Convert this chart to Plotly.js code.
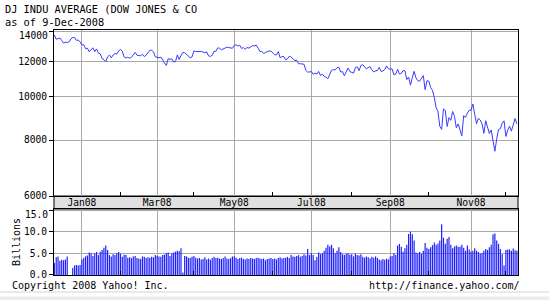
<!DOCTYPE html>
<html>
<head>
<meta charset="utf-8">
<script src="https://cdn.plot.ly/plotly-3.0.1.min.js"></script>
<style>html,body{margin:0;padding:0;background:#fff;}#chart{width:549px;height:300px;}</style>
</head>
<body>
<div id="chart"></div>
<script>
// ---- DATA (trading days 10-Dec-2007 .. 9-Dec-2008) ----
const startDate = '2007-12-10';
const endDate = '2008-12-09';
const holidays = ['2007-12-25','2008-01-01','2008-01-21','2008-02-18','2008-03-21','2008-05-26','2008-07-04','2008-09-01','2008-11-27'];

const closeDec07 = [13727.03,13432.77,13473.90,13517.96,13339.85,13167.20,13232.47,13207.27,13245.64,13450.65,13549.33,13551.69,13359.61,13365.87,13264.82];
const closeJan08 = [13043.96,13056.72,12800.18,12827.49,12589.07,12735.31,12853.09,12606.30,12778.15,12501.11,12466.16,12159.21,12099.30,11971.19,12270.17,12378.61,12207.17,12383.89,12480.30,12442.83,12650.36];
const closeFeb08 = [12743.19,12635.16,12265.13,12200.10,12247.00,12182.13,12240.01,12373.41,12552.24,12376.98,12348.21,12337.22,12427.26,12284.30,12381.02,12570.22,12684.92,12694.28,12582.18,12266.39];
const closeMar08 = [12258.90,12213.80,12254.99,12040.39,11893.69,11740.15,12156.81,12110.24,12145.74,11951.09,11972.25,12392.66,12099.66,12361.32,12548.64,12532.60,12422.86,12302.46,12216.40,12262.89];
const closeApr08 = [12654.36,12608.92,12626.03,12609.42,12612.43,12576.44,12527.26,12581.98,12325.42,12302.06,12362.47,12619.27,12620.49,12849.36,12825.02,12720.23,12763.22,12848.95,12891.86,12871.75,12831.45,12820.13];
const closeMay08 = [13010.00,13058.20,12969.54,13020.83,12814.35,12866.78,12745.88,12876.05,12832.18,12898.38,12992.66,12986.80,13028.16,12828.68,12601.19,12625.62,12479.63,12548.35,12594.03,12646.22,12638.32];
const closeJun08 = [12503.82,12402.85,12390.48,12604.45,12209.81,12280.32,12289.76,12083.77,12141.58,12307.35,12269.08,12160.30,12029.06,12063.09,11842.69,11842.36,11807.43,11811.83,11453.42,11346.51,11350.01];
const closeJul08 = [11382.26,11215.51,11288.53,11231.96,11384.21,11147.44,11229.02,11100.54,11055.19,10962.54,11239.28,11446.66,11496.57,11467.34,11602.50,11632.38,11349.28,11370.69,11131.08,11397.56,11583.69,11378.02];
const closeAug08 = [11326.32,11284.15,11615.77,11656.07,11431.43,11734.32,11782.35,11642.47,11532.96,11615.93,11659.90,11479.39,11348.55,11417.43,11430.21,11628.06,11386.25,11412.87,11502.51,11715.18,11543.55];
const closeSep08 = [11516.92,11532.88,11188.23,11220.96,11510.74,11230.73,11268.92,11433.71,11421.99,10917.51,11059.02,10609.66,11019.69,11388.44,11015.69,10854.17,10825.17,11022.06,11143.13,10365.45,10850.66];
const closeOct08 = [10831.07,10482.85,10325.38,9955.50,9447.11,9258.10,8579.19,8451.19,9387.61,9310.99,8577.91,8979.26,8852.22,9265.43,9033.66,8519.21,8691.25,8378.95,8175.77,9065.12,8990.96,9180.69,9325.01];
const closeNov08 = [9319.83,9625.28,9139.27,8695.79,8943.81,8870.54,8693.96,8282.66,8835.25,8497.31,8273.58,8424.75,7997.28,7552.29,8046.42,8443.39,8479.47,8726.61,8829.04];
const closeDec08 = [8149.09,8419.09,8591.69,8376.24,8635.42,8934.18,8691.33];

// volume, billions of shares
const volDec07 = [2.8,4.1,4.3,3.3,3.5,3.4,3.6,4.3,0,0,1.6,2.2,2.3,2.2,2.3];
const volJan08 = [3.6,4.0,4.3,4.5,5.2,5.0,4.4,5.0,5.3,4.6,5.4,5.8,6.3,6.8,5.8,4.6,4.3,4.8,4.6,5.0,5.3];
const volFeb08 = [4.9,4.2,4.7,4.6,4.0,4.1,3.9,4.3,4.4,3.9,3.8,3.7,4.3,4.2,3.9,4.1,4.0,4.2,4.1,4.6];
const volMar08 = [4.4,4.3,4.2,4.6,4.7,5.0,5.2,4.4,5.0,5.2,5.4,5.6,5.5,6.2,0.6,4.4,4.3,4.0,3.9,4.2];
const volApr08 = [4.4,4.0,3.8,3.9,3.6,3.7,4.1,3.6,3.8,3.5,3.9,4.2,3.9,4.0,3.8,3.7,3.9,4.3,3.8,3.7,3.9,4.3];
const volMay08 = [4.3,4.0,3.7,3.9,4.0,3.7,3.6,3.8,3.7,3.9,3.8,3.7,3.9,4.0,3.8,3.7,3.8,3.4,3.7,3.8,3.9];
const volJun08 = [3.7,3.8,3.6,3.9,4.1,3.8,3.9,4.0,4.2,3.9,4.6,4.3,4.2,4.4,4.6,4.2,4.4,4.8,4.5,6.0,4.6];
const volJul08 = [5.0,4.6,3.4,4.2,5.2,4.8,5.0,5.6,6.3,7.0,6.6,7.0,6.2,5.0,5.6,6.4,5.3,4.8,4.6,4.9,5.0,4.7];
const volAug08 = [4.8,4.3,4.9,4.6,4.5,4.8,4.2,4.0,4.3,4.1,3.8,4.2,4.0,4.3,3.9,3.6,3.4,3.7,3.5,3.8,3.6];
const volSep08 = [4.3,4.4,5.0,4.6,6.8,7.2,6.5,5.4,6.2,7.0,9.5,10.0,9.4,8.0,5.2,5.0,5.3,4.9,5.6,7.4,6.3];
const volOct08 = [6.0,6.4,6.9,7.5,7.0,7.3,8.0,11.7,8.6,7.2,8.4,8.8,7.0,6.2,6.6,6.8,6.5,6.5,7.0,6.3,5.6,6.8,5.9];
const volNov08 = [5.4,5.6,6.2,5.6,5.3,4.9,5.1,5.6,6.0,5.8,6.4,7.0,9.4,9.6,8.0,7.2,6.0,4.8,2.2];
const volDec08 = [5.8,5.9,5.9,5.6,6.1,5.7,5.6];

const majorLabels = ['Jan08','Mar08','May08','Jul08','Sep08','Nov08'];
const priceTicks = [6000,8000,10000,12000,14000];
const priceTickText = ['6000','8000','10000','12000',''];
const priceTopLabel = '14000';
const volTicks = [0,5,10,15];
const volTickText = ['0.0','5.0','10.0',''];
const volTopLabel = '15.0';

// ---- build ----
const dates = [];
(function(){
  const d = new Date(startDate + 'T00:00:00Z');
  const end = new Date(endDate + 'T00:00:00Z');
  while (d <= end) {
    const dow = d.getUTCDay();
    const iso = d.toISOString().slice(0,10);
    if (dow !== 0 && dow !== 6 && holidays.indexOf(iso) < 0) dates.push(iso);
    d.setUTCDate(d.getUTCDate() + 1);
  }
})();
const close = [].concat(closeDec07,closeJan08,closeFeb08,closeMar08,closeApr08,closeMay08,closeJun08,closeJul08,closeAug08,closeSep08,closeOct08,closeNov08,closeDec08);
const vol = [].concat(volDec07,volJan08,volFeb08,volMar08,volApr08,volMay08,volJun08,volJul08,volAug08,volSep08,volOct08,volNov08,volDec08);
const idx = dates.map((_, i) => i);

const majorIdx = [], minorIdx = [];
for (let i = 1; i < dates.length; i++) {
  if (dates[i].slice(5,7) !== dates[i-1].slice(5,7)) {
    const m = parseInt(dates[i].slice(5,7), 10);
    if (m % 2 === 1) majorIdx.push(i); else minorIdx.push(i);
  }
}

const mono = 'DejaVu Sans Mono';
const gridc = '#a8a8a8';
const xr = [-0.2, 252.6];
// pixel helpers for paper-placed texts (plot area: x 54..518, y 30..275)
const px = v => (v - 54) / 464;
const py = v => (275 - v) / 245;

const traces = [
  {type:'scatter', mode:'lines', x: idx, y: close, xaxis:'x', yaxis:'y',
   line:{color:'#3a3aff', width:1}, hoverinfo:'skip'},
  {type:'bar', x: idx, y: vol, xaxis:'x2', yaxis:'y2',
   marker:{color:'#1f1fff', line:{width:0}}, hoverinfo:'skip'}
];

const baseX = {
  range: xr, tickmode:'array', tickvals: majorIdx, ticktext: majorLabels,
  showgrid:true, gridcolor:gridc, gridwidth:1, zeroline:false,
  showline:true, linecolor:'#000', linewidth:1, mirror:true, ticks:'',
  minor:{tickmode:'array', tickvals: minorIdx, ticks:'inside', ticklen:4, tickcolor:'#000', showgrid:false},
  tickfont:{family:mono, size:9.6, color:'#000'}
};

const layout = {
  width:549, height:300,
  margin:{l:54, r:31, t:30, b:25, pad:0},
  paper_bgcolor:'#fff', plot_bgcolor:'#fff',
  showlegend:false, bargap:0.35,
  font:{family:mono, size:10, color:'#000'},
  xaxis: Object.assign({}, baseX, {anchor:'y', showticklabels:true, ticklabelstandoff:-3}),
  xaxis2: Object.assign({}, baseX, {anchor:'y2', showticklabels:false}),
  yaxis: {
    type:'log', domain:[0.3224, 1], range:[Math.log10(6000), Math.log10(14085)],
    tickmode:'array', tickvals: priceTicks, ticktext: priceTickText,
    ticks:'outside', ticklen:4, tickcolor:'#000',
    showgrid:true, gridcolor:gridc, zeroline:false,
    showline:true, linecolor:'#000', mirror:true,
    tickfont:{family:mono, size:9.6, color:'#000'}
  },
  yaxis2: {
    domain:[0, 0.2694], range:[0, 15.25],
    tickmode:'array', tickvals: volTicks, ticktext: volTickText,
    ticks:'outside', ticklen:4, tickcolor:'#000',
    showgrid:true, gridcolor:gridc, zeroline:false,
    showline:true, linecolor:'#000', mirror:true,
    tickfont:{family:mono, size:9.6, color:'#000'},
    title:{text:'Billions', font:{family:mono, size:10, color:'#000'}, standoff:1}
  },
  shapes:[
    {type:'rect', xref:'paper', yref:'paper', x0:0, x1:1, y0:0.2694, y1:0.3224,
     fillcolor:'#e0e0e0', line:{color:'#000', width:1}, layer:'below'},
    {type:'line', xref:'paper', yref:'paper', x0:-0.12, x1:1.07, y0:py(292), y1:py(292),
     line:{color:'#d4d4d4', width:1}},
    {type:'rect', xref:'paper', yref:'paper', x0:-0.12, x1:1.07, y0:py(296.5), y1:py(301),
     fillcolor:'#ececec', line:{width:0}}
  ],
  annotations:[
    {text:'DJ INDU AVERAGE (DOW JONES & CO', xref:'paper', yref:'paper', x:px(3), y:py(9),
     xanchor:'left', yanchor:'middle', showarrow:false, font:{family:mono, size:10.3, color:'#000'}},
    {text:'as of 9-Dec-2008', xref:'paper', yref:'paper', x:px(3), y:py(22),
     xanchor:'left', yanchor:'middle', showarrow:false, font:{family:mono, size:10.3, color:'#000'}},
    {text:priceTopLabel, xref:'paper', yref:'paper', x:px(49.5), y:py(35.5),
     xanchor:'right', yanchor:'middle', showarrow:false, font:{family:mono, size:9.6, color:'#000'}},
    {text:volTopLabel, xref:'paper', yref:'paper', x:px(49.5), y:py(214),
     xanchor:'right', yanchor:'middle', showarrow:false, font:{family:mono, size:9.6, color:'#000'}},
    {text:'Copyright 2008 Yahoo! Inc.', xref:'paper', yref:'paper', x:px(10), y:py(285),
     xanchor:'left', yanchor:'middle', showarrow:false, font:{family:mono, size:10, color:'#000'}},
    {text:'http://finance.yahoo.com/', xref:'paper', yref:'paper', x:px(522), y:py(285),
     xanchor:'right', yanchor:'middle', showarrow:false, font:{family:mono, size:10, color:'#000'}}
  ]
};

Plotly.newPlot('chart', traces, layout, {displayModeBar:false, staticPlot:true});
</script>
</body>
</html>
